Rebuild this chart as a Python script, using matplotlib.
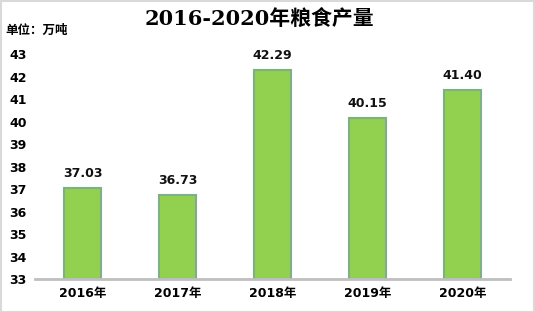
import matplotlib
matplotlib.use("Agg")
import matplotlib.pyplot as plt
from matplotlib.patches import Rectangle

plt.rcParams['font.family'] = ['DejaVu Sans', 'Noto Sans CJK SC']

categories = ['2016年', '2017年', '2018年', '2019年', '2020年']
values = [37.03, 36.73, 42.29, 40.15, 41.40]
yticks = list(range(33, 44))

fig = plt.figure(figsize=(5.35, 3.12), dpi=100)
ax = fig.add_axes([35/535, 1-279/312, 475/535, 225/312])

x = range(len(categories))
ax.bar(x, [v - 33 for v in values], bottom=33, width=0.39,
       color='#92D050', edgecolor='#7FAF88', linewidth=1.5, zorder=2)
for i, v in enumerate(values):
    ax.text(i, v + 0.35, f'{v:.2f}', ha='center', va='bottom',
            fontsize=9, fontweight='bold', color='#111111')

ax.set_xlim(-0.5, 4.5)
ax.set_ylim(33, 43)
ax.set_yticks(yticks)
ax.set_yticklabels([str(t) for t in yticks], fontsize=9, fontweight='bold')
ax.set_xticks(list(x))
ax.set_xticklabels(categories, fontsize=9, fontweight='bold')
ax.tick_params(axis='both', length=0)
ax.tick_params(axis='y', pad=6)
ax.tick_params(axis='x', pad=6)
for s in ['top', 'right', 'left']:
    ax.spines[s].set_visible(False)
ax.spines['bottom'].set_color('#BFBFBF')
ax.spines['bottom'].set_linewidth(2)
ax.spines['bottom'].set_zorder(3)

fig.text(0.485, 1-20/312, '2016-2020年粮食产量', ha='center', va='center',
         fontsize=15, fontweight='bold', family=['DejaVu Serif', 'Noto Sans CJK SC'])
fig.text(5/535, 1-30/312, '单位：万吨', ha='left', va='center', fontsize=9,
         fontweight='bold', family=['Noto Sans CJK SC'])

fig.patches.append(Rectangle((0.5/535, 0.5/312), 1-1.5/535, 1-1.5/312,
                             transform=fig.transFigure, fill=False,
                             edgecolor='#D9D9D9', linewidth=1.5))

fig.savefig('out.png', dpi=100)
